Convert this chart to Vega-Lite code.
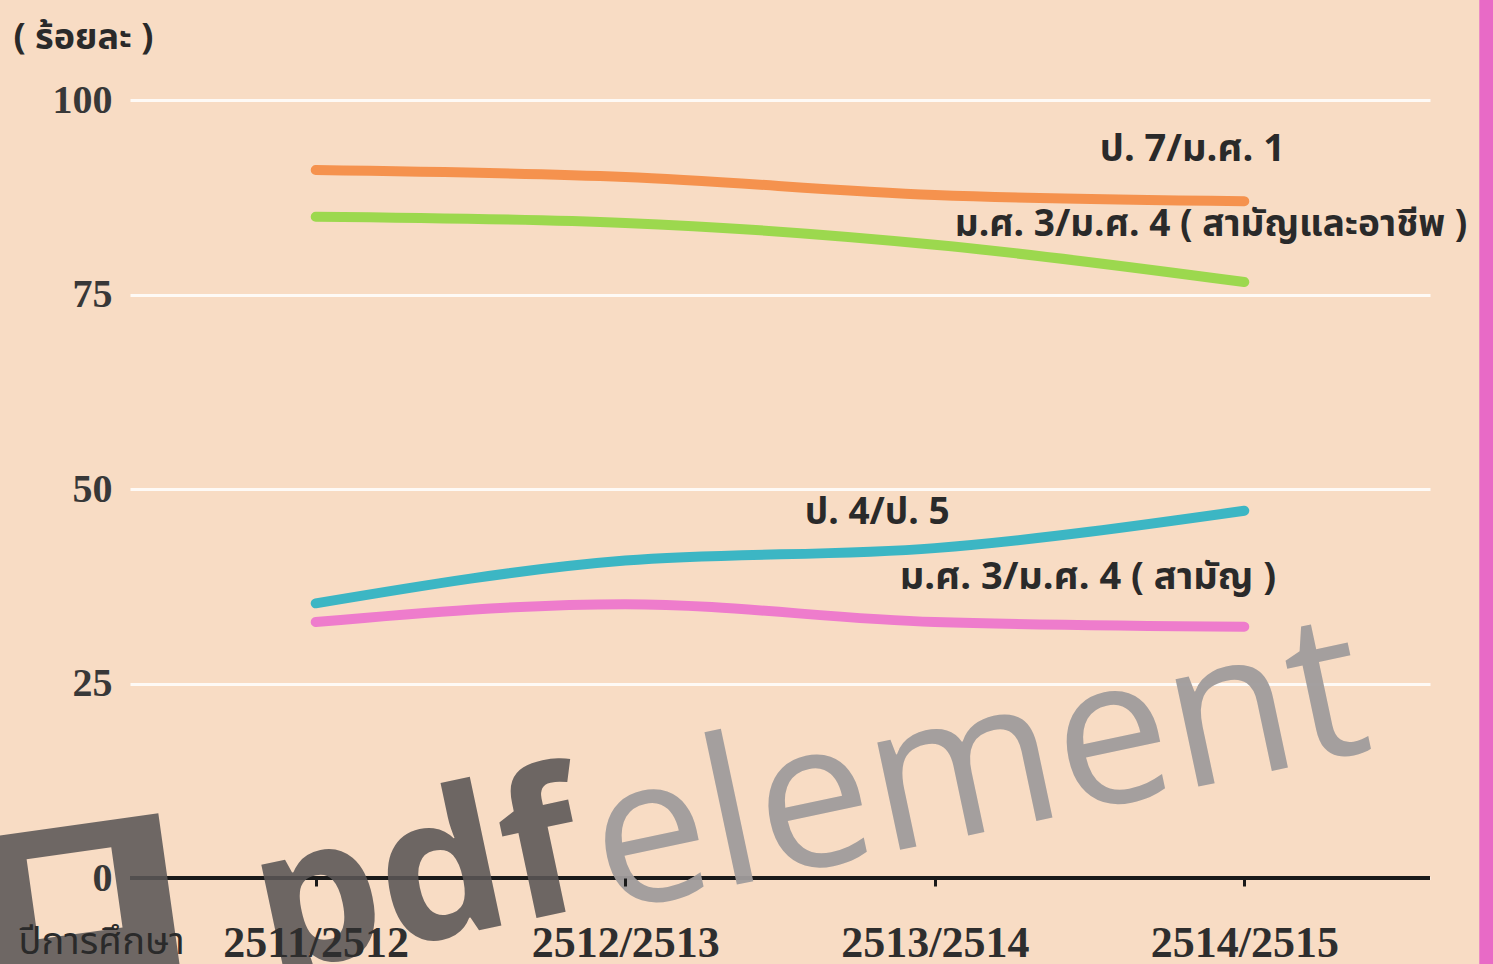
{
  "$schema": "https://vega.github.io/schema/vega-lite/v6.json",
  "autosize": "none",
  "width": 1300,
  "height": 778,
  "padding": {"left": 130, "top": 100, "right": 63, "bottom": 86},
  "background": "#f8dcc4",
  "config": {"view": {"stroke": null}},
  "datasets": {
    "series": [
      {"series": "p7m1", "year": "2511/2512", "value": 91.0},
      {"series": "p7m1", "year": "2512/2513", "value": 90.1},
      {"series": "p7m1", "year": "2513/2514", "value": 87.8},
      {"series": "p7m1", "year": "2514/2515", "value": 87.0},
      {"series": "m3m4all", "year": "2511/2512", "value": 85.0},
      {"series": "m3m4all", "year": "2512/2513", "value": 84.2},
      {"series": "m3m4all", "year": "2513/2514", "value": 81.4},
      {"series": "m3m4all", "year": "2514/2515", "value": 76.6},
      {"series": "p4p5", "year": "2511/2512", "value": 35.3},
      {"series": "p4p5", "year": "2512/2513", "value": 40.8},
      {"series": "p4p5", "year": "2513/2514", "value": 42.4},
      {"series": "p4p5", "year": "2514/2515", "value": 47.2},
      {"series": "m3m4gen", "year": "2511/2512", "value": 32.9},
      {"series": "m3m4gen", "year": "2512/2513", "value": 35.2},
      {"series": "m3m4gen", "year": "2513/2514", "value": 32.9},
      {"series": "m3m4gen", "year": "2514/2515", "value": 32.3}
    ]
  },
  "layer": [
    {
      "data": {"name": "series"},
      "mark": {"type": "line", "strokeWidth": 10, "strokeCap": "round", "strokeJoin": "round", "interpolate": "monotone"},
      "encoding": {
        "x": {
          "field": "year", "type": "ordinal",
          "scale": {"type": "point", "padding": 0.6},
          "sort": ["2511/2512", "2512/2513", "2513/2514", "2514/2515"],
          "axis": {
            "zindex": 1,
            "title": "ปีการศึกษา",
            "titleFont": "Noto Sans Thai, Noto Sans, sans-serif",
            "titleFontSize": 38,
            "titleFontWeight": "normal",
            "titleColor": "#2a2a2a",
            "titleAlign": "left",
            "titleBaseline": "middle",
            "titleAnchor": "start",
            "titleX": -112,
            "titleY": 64,
            "domain": false,
            "ticks": true,
            "tickColor": "#1a1a1a",
            "tickSize": 8,
            "tickWidth": 3,
            "grid": false,
            "labelAngle": 0,
            "labelLimit": 0,
            "labelFont": "Liberation Serif",
            "labelFontWeight": "bold",
            "labelFontSize": 44,
            "labelColor": "#2e2e2e",
            "labelPadding": 35
          }
        },
        "y": {
          "field": "value", "type": "quantitative",
          "scale": {"domain": [0, 100], "nice": false, "zero": true},
          "axis": {
            "values": [0, 25, 50, 75, 100],
            "title": "( ร้อยละ )",
            "titleFont": "Noto Sans Thai, Noto Sans, sans-serif",
            "titleFontSize": 36,
            "titleFontWeight": "bold",
            "titleColor": "#2a2a2a",
            "titleAngle": 0,
            "titleAlign": "left",
            "titleBaseline": "middle",
            "titleX": -117,
            "titleY": -63,
            "domain": false,
            "ticks": false,
            "grid": true,
            "gridColor": "#ffffff",
            "gridWidth": 3,
            "gridOpacity": 0.85,
            "labelFont": "Liberation Serif",
            "labelFontWeight": "bold",
            "labelFontSize": 40,
            "labelColor": "#383838",
            "labelPadding": 18
          }
        },
        "color": {
          "field": "series", "type": "nominal",
          "scale": {
            "domain": ["p7m1", "m3m4all", "p4p5", "m3m4gen"],
            "range": ["#f5924e", "#9cd84e", "#3cb6c4", "#ee7ccc"]
          },
          "legend": null
        }
      }
    },
    {
      "data": {"values": [{"zero": 0}]},
      "mark": {"type": "rule", "color": "#1a1a1a", "strokeWidth": 4},
      "encoding": {"y": {"field": "zero", "type": "quantitative"}}
    },
    {
      "data": {"values": [
        {"label": "ป. 7/ม.ศ. 1", "year": "2513/2514", "value": 93.6}
      ]},
      "mark": {"type": "text", "align": "left", "baseline": "middle", "dx": 165, "font": "Noto Sans Thai, Noto Sans, sans-serif", "fontSize": 38, "fontWeight": "bold", "color": "#2a2a2a"},
      "encoding": {
        "x": {"field": "year", "type": "ordinal"},
        "y": {"field": "value", "type": "quantitative"},
        "text": {"field": "label"}
      }
    },
    {
      "data": {"values": [
        {"label": "ม.ศ. 3/ม.ศ. 4 ( สามัญและอาชีพ )", "year": "2513/2514", "value": 83.9}
      ]},
      "mark": {"type": "text", "align": "left", "baseline": "middle", "dx": 20, "font": "Noto Sans Thai, Noto Sans, sans-serif", "fontSize": 37, "fontWeight": "bold", "color": "#2a2a2a"},
      "encoding": {
        "x": {"field": "year", "type": "ordinal"},
        "y": {"field": "value", "type": "quantitative"},
        "text": {"field": "label"}
      }
    },
    {
      "data": {"values": [
        {"label": "ป. 4/ป. 5", "year": "2513/2514", "value": 46.9}
      ]},
      "mark": {"type": "text", "align": "left", "baseline": "middle", "dx": -130, "font": "Noto Sans Thai, Noto Sans, sans-serif", "fontSize": 37, "fontWeight": "bold", "color": "#2a2a2a"},
      "encoding": {
        "x": {"field": "year", "type": "ordinal"},
        "y": {"field": "value", "type": "quantitative"},
        "text": {"field": "label"}
      }
    },
    {
      "data": {"values": [
        {"label": "ม.ศ. 3/ม.ศ. 4 ( สามัญ )", "year": "2513/2514", "value": 38.6}
      ]},
      "mark": {"type": "text", "align": "left", "baseline": "middle", "dx": -35, "font": "Noto Sans Thai, Noto Sans, sans-serif", "fontSize": 38, "fontWeight": "bold", "color": "#2a2a2a"},
      "encoding": {
        "x": {"field": "year", "type": "ordinal"},
        "y": {"field": "value", "type": "quantitative"},
        "text": {"field": "label"}
      }
    },
    {
      "data": {"values": [{"year": "2514/2515", "top": 113, "bottom": -12}]},
      "mark": {"type": "rule", "color": "#e86ac6", "strokeWidth": 14, "xOffset": 242, "clip": false},
      "encoding": {
        "x": {"field": "year", "type": "ordinal"},
        "y": {"field": "top", "type": "quantitative"},
        "y2": {"field": "bottom"}
      }
    },
    {
      "data": {"values": [{"year": "2511/2512", "value": 0}]},
      "mark": {"type": "point", "shape": "M-1,-1L1,-1L1,1L-1,1Z M-0.52,-0.7L-0.52,0.2L0.43,0.2L0.43,-0.7Z", "filled": true, "size": 32400, "angle": 352, "xOffset": -234, "yOffset": 37, "color": "#5a5656", "opacity": 0.88, "clip": false},
      "encoding": {
        "x": {"field": "year", "type": "ordinal"},
        "y": {"field": "value", "type": "quantitative"}
      }
    },
    {
      "data": {"values": [{"text": "pdf", "year": "2511/2512", "value": 0}]},
      "mark": {"type": "text", "align": "left", "baseline": "alphabetic", "angle": 348, "dx": -66, "dy": 85, "font": "Open Sans", "fontWeight": "bold", "fontSize": 200, "color": "#5a5656", "opacity": 0.88},
      "encoding": {
        "x": {"field": "year", "type": "ordinal"},
        "y": {"field": "value", "type": "quantitative"},
        "text": {"field": "text"}
      }
    },
    {
      "data": {"values": [{"text": "element", "year": "2511/2512", "value": 0}]},
      "mark": {"type": "text", "align": "left", "baseline": "alphabetic", "angle": 348, "dx": 278, "dy": 94, "font": "Open Sans", "fontWeight": "normal", "fontSize": 205, "color": "#a09c9c", "opacity": 0.95},
      "encoding": {
        "x": {"field": "year", "type": "ordinal"},
        "y": {"field": "value", "type": "quantitative"},
        "text": {"field": "text"}
      }
    }
  ]
}
